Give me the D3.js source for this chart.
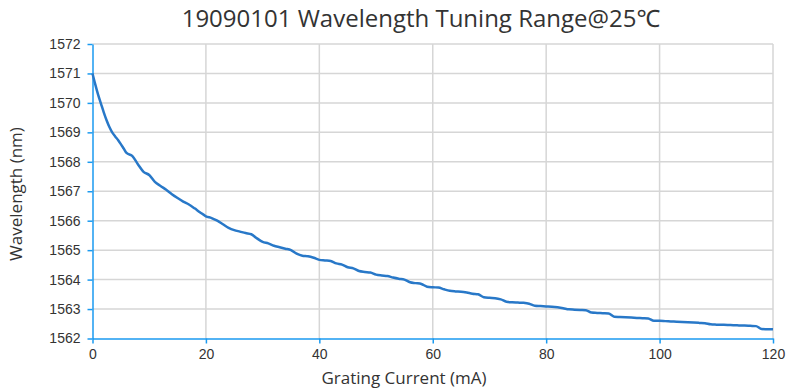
<!DOCTYPE html>
<html>
<head>
<meta charset="utf-8">
<script src="https://cdn.jsdelivr.net/npm/d3@7"></script>
<style>
  body { margin: 0; background: #fff; }
  svg { font-family: "Open Sans", "Noto Sans", sans-serif; }
  .grid line { stroke: #d6d6d6; stroke-width: 1.5; }
  .axis path, .axis line { stroke: #1a9af0; stroke-width: 1.5; }
  .axis text { fill: #333; font-size: 14px; }
</style>
</head>
<body>
<div id="chart"></div>
<script>
var current = [0, 0.5, 1, 1.5, 2, 2.5, 3, 3.5, 4, 4.5, 5, 5.5, 6, 7, 8, 9, 10, 11, 12, 13, 14, 15, 16, 17, 18, 19, 20,
  21, 22, 23, 24, 25, 26, 27, 28, 29, 30, 31, 32, 33, 34, 35, 36, 37, 38, 39, 40,
  41, 42, 43, 44, 45, 46, 47, 48, 49, 50, 51, 52, 53, 54, 55, 56, 57, 58, 59, 60,
  61, 62, 63, 64, 65, 66, 67, 68, 69, 70, 71, 72, 73, 74, 75, 76, 77, 78, 79, 80,
  81, 82, 83, 84, 85, 86, 87, 88, 89, 90, 91, 92, 93, 94, 95, 96, 97, 98, 99, 100,
  101, 102, 103, 104, 105, 106, 107, 108, 109, 110, 111, 112, 113, 114, 115, 116, 117, 118, 119, 120];
var wavelength = [1571.0, 1570.62, 1570.27, 1569.97, 1569.67, 1569.4, 1569.17, 1568.99, 1568.86, 1568.74, 1568.6, 1568.45, 1568.3, 1568.2, 1567.92, 1567.66, 1567.55, 1567.32, 1567.18, 1567.05, 1566.9, 1566.77, 1566.65, 1566.55, 1566.42, 1566.28, 1566.15,
  1566.09, 1566.0, 1565.88, 1565.76, 1565.68, 1565.63, 1565.58, 1565.54, 1565.4, 1565.28, 1565.23, 1565.15, 1565.1, 1565.05, 1565.0, 1564.88, 1564.81, 1564.79, 1564.74, 1564.67,
  1564.65, 1564.63, 1564.55, 1564.51, 1564.42, 1564.38, 1564.29, 1564.26, 1564.24, 1564.17, 1564.14, 1564.12, 1564.07, 1564.03, 1564.0, 1563.91, 1563.88, 1563.85, 1563.76, 1563.74,
  1563.73, 1563.67, 1563.62, 1563.6, 1563.59, 1563.56, 1563.52, 1563.5, 1563.4, 1563.38, 1563.37, 1563.33, 1563.25, 1563.23, 1563.22, 1563.21, 1563.18, 1563.11, 1563.1, 1563.09,
  1563.08, 1563.06, 1563.03, 1562.99, 1562.98, 1562.97, 1562.96, 1562.88, 1562.87, 1562.86, 1562.85, 1562.74, 1562.73, 1562.72, 1562.71, 1562.70, 1562.69, 1562.68, 1562.60, 1562.60,
  1562.59, 1562.58, 1562.57, 1562.56, 1562.55, 1562.54, 1562.53, 1562.52, 1562.48, 1562.47, 1562.465, 1562.46, 1562.45, 1562.445, 1562.44, 1562.43, 1562.42, 1562.32, 1562.315, 1562.31];

var xTicks = [0, 20, 40, 60, 80, 100, 120];
var yTicks = [1562, 1563, 1564, 1565, 1566, 1567, 1568, 1569, 1570, 1571, 1572];

var W = 800, H = 391;
var margin = {top: 44, right: 27, bottom: 52.5, left: 92.5};
var width = W - margin.left - margin.right,
    height = H - margin.top - margin.bottom;

var svg = d3.select("#chart").append("svg")
    .attr("width", W)
    .attr("height", H);

var g = svg.append("g")
    .attr("transform", "translate(" + margin.left + "," + margin.top + ")");

var x = d3.scaleLinear().domain([0, 120]).range([0, width]);
var y = d3.scaleLinear().domain([1562, 1572]).range([height, 0]);

// grid lines
g.append("g").attr("class", "grid")
  .selectAll("line.h").data(yTicks.slice(1)).enter().append("line")
    .attr("x1", 0).attr("x2", width)
    .attr("y1", function(d) { return y(d); })
    .attr("y2", function(d) { return y(d); });
g.append("g").attr("class", "grid")
  .selectAll("line.v").data(xTicks.slice(1)).enter().append("line")
    .attr("y1", 0).attr("y2", height)
    .attr("x1", function(d) { return x(d); })
    .attr("x2", function(d) { return x(d); });

// axes
g.append("g").attr("class", "axis")
    .attr("transform", "translate(0," + height + ")")
    .call(d3.axisBottom(x).tickValues(xTicks).tickFormat(d3.format("d"))
      .tickSize(5).tickSizeOuter(0).tickPadding(6));
g.append("g").attr("class", "axis")
    .call(d3.axisLeft(y).tickValues(yTicks).tickFormat(d3.format("d"))
      .tickSize(5).tickSizeOuter(0).tickPadding(7));

// the curve
var pts = current.map(function(c, i) { return [c, wavelength[i]]; });
var line = d3.line()
    .x(function(d) { return x(d[0]); })
    .y(function(d) { return y(d[1]); })
    .curve(d3.curveMonotoneX);

g.append("path")
    .datum(pts)
    .attr("fill", "none")
    .attr("stroke", "#2878c8")
    .attr("stroke-width", 2.5)
    .attr("stroke-linejoin", "round")
    .attr("d", line);

// titles
svg.append("text")
    .attr("x", 421).attr("y", 27)
    .attr("text-anchor", "middle")
    .style("font-size", "24px")
    .style("fill", "#333")
    .text("19090101 Wavelength Tuning Range@25℃");

svg.append("text")
    .attr("x", 404).attr("y", 384)
    .attr("text-anchor", "middle")
    .style("font-size", "17px")
    .style("fill", "#333")
    .text("Grating Current (mA)");

svg.append("text")
    .attr("transform", "translate(22,194) rotate(-90)")
    .attr("text-anchor", "middle")
    .style("font-size", "17px")
    .style("fill", "#333")
    .text("Wavelength (nm)");
</script>
</body>
</html>
